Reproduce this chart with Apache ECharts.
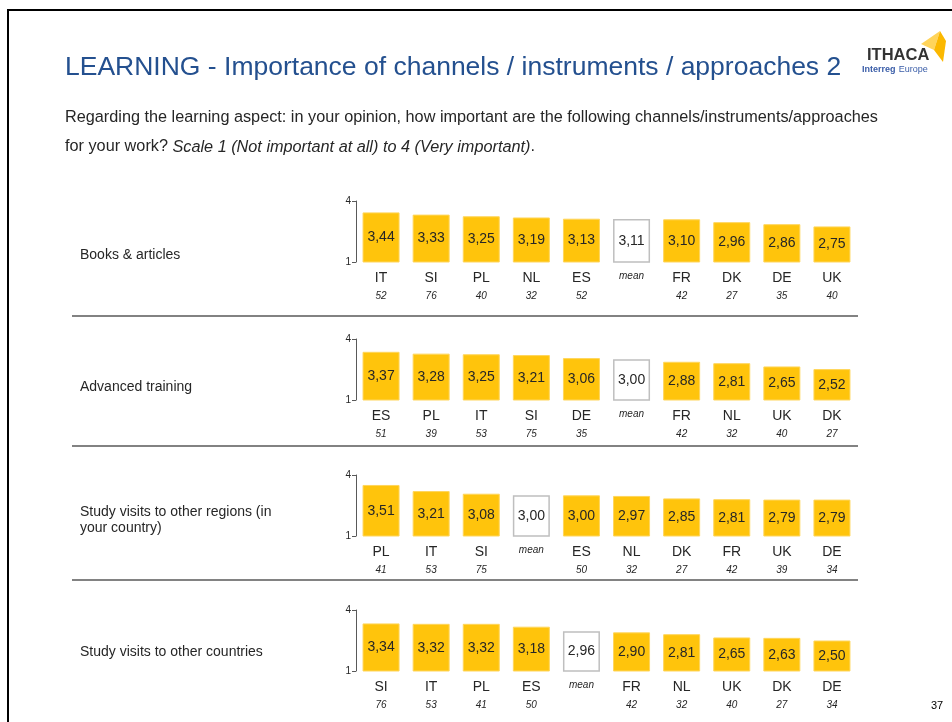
<!DOCTYPE html>
<html>
<head>
<meta charset="utf-8">
<script src="https://cdn.jsdelivr.net/npm/echarts@6/dist/echarts.min.js"></script>
<style>
  html, body { margin: 0; padding: 0; background: #fff; }
  #chart { width: 952px; height: 722px; }
</style>
</head>
<body>
<div id="chart"></div>
<script>
// --- data ---
const rowLabels = ['Books & articles', 'Advanced training', 'Study visits to other regions (in\nyour country)', 'Study visits to other countries']

const booksCats = ['IT', 'SI', 'PL', 'NL', 'ES', 'mean', 'FR', 'DK', 'DE', 'UK']
const booksVals = [3.44, 3.33, 3.25, 3.19, 3.13, 3.11, 3.10, 2.96, 2.86, 2.75]
const booksN    = [52, 76, 40, 32, 52, null, 42, 27, 35, 40]

const trainCats = ['ES', 'PL', 'IT', 'SI', 'DE', 'mean', 'FR', 'NL', 'UK', 'DK']
const trainVals = [3.37, 3.28, 3.25, 3.21, 3.06, 3.00, 2.88, 2.81, 2.65, 2.52]
const trainN    = [51, 39, 53, 75, 35, null, 42, 32, 40, 27]

const regionCats = ['PL', 'IT', 'SI', 'mean', 'ES', 'NL', 'DK', 'FR', 'UK', 'DE']
const regionVals = [3.51, 3.21, 3.08, 3.00, 3.00, 2.97, 2.85, 2.81, 2.79, 2.79]
const regionN    = [41, 53, 75, null, 50, 32, 27, 42, 39, 34]

const countryCats = ['SI', 'IT', 'PL', 'ES', 'mean', 'FR', 'NL', 'UK', 'DK', 'DE']
const countryVals = [3.34, 3.32, 3.32, 3.18, 2.96, 2.90, 2.81, 2.65, 2.63, 2.50]
const countryN    = [76, 53, 41, 50, null, 42, 32, 40, 27, 34]

const yTicks = [1, 4]

const panels = [
  { cats: booksCats, vals: booksVals, n: booksN },
  { cats: trainCats, vals: trainVals, n: trainN },
  { cats: regionCats, vals: regionVals, n: regionN },
  { cats: countryCats, vals: countryVals, n: countryN }
]

// --- layout ---
const FONT = 'Liberation Sans'
const INK = '#262626'
const YELLOW = '#ffc40c'
const panelTops = [201, 339, 475, 610]
const panelH = 61
const gridLeft = 356
const gridW = 501
const rowLabelY = [255, 387, 520, 652]
const sepY = [316, 446, 580]

const chart = echarts.init(document.getElementById('chart'), null, { renderer: 'canvas' })

const grids = [], xAxes = [], yAxes = [], series = []
panels.forEach((p, i) => {
  grids.push({ left: gridLeft, top: panelTops[i], width: gridW, height: panelH })
  xAxes.push({
    type: 'category',
    gridIndex: i,
    data: p.cats,
    axisLine: { show: false },
    axisTick: { show: false },
    axisLabel: {
      margin: 7,
      interval: 0,
      formatter: (v, idx) => v === 'mean'
        ? '{m|mean}'
        : '{c|' + v + '}\n{n|' + p.n[idx] + '}',
      rich: {
        c: { fontFamily: FONT, fontSize: 14, color: INK, lineHeight: 18 },
        n: { fontFamily: FONT, fontSize: 10, fontStyle: 'italic', color: INK, lineHeight: 18 },
        m: { fontFamily: FONT, fontSize: 10, fontStyle: 'italic', color: INK, lineHeight: 14 }
      }
    }
  })
  yAxes.push({
    type: 'value',
    gridIndex: i,
    min: yTicks[0],
    max: yTicks[1],
    interval: yTicks[1] - yTicks[0],
    splitLine: { show: false },
    axisLine: { show: true, lineStyle: { color: '#595959', width: 1 } },
    axisTick: { show: true, length: 4, lineStyle: { color: '#595959' } },
    axisLabel: { fontFamily: FONT, fontSize: 10, color: INK, margin: 5 }
  })
  series.push({
    type: 'bar',
    xAxisIndex: i,
    yAxisIndex: i,
    barWidth: 37,
    silent: true,
    data: p.vals.map((v, idx) => p.cats[idx] === 'mean'
      ? { value: v, itemStyle: { color: '#fff', borderColor: '#bfbfbf', borderWidth: 1.5 } }
      : { value: v, itemStyle: { color: YELLOW, borderColor: '#ffd65c', borderWidth: 1 } }),
    label: {
      show: true,
      position: 'inside',
      fontFamily: FONT,
      fontSize: 14,
      color: INK,
      formatter: (d) => d.value.toFixed(2).replace('.', ',')
    }
  })
})

function txt(x, y, style) {
  return { type: 'text', x: x, y: y, style: Object.assign({ fontFamily: FONT, fill: INK, verticalAlign: 'middle' }, style) }
}

const graphic = [
  // slide frame
  { type: 'line', shape: { x1: 7, y1: 10, x2: 952, y2: 10 }, style: { stroke: '#000', lineWidth: 2 } },
  { type: 'line', shape: { x1: 8, y1: 10, x2: 8, y2: 722 }, style: { stroke: '#000', lineWidth: 2 } },
  // title + question
  txt(65, 68, { text: 'LEARNING - Importance of channels / instruments / approaches 2', fontSize: 26.5, fill: '#24508f' }),
  txt(65, 118, { text: 'Regarding the learning aspect: in your opinion, how important are the following channels/instruments/approaches', fontSize: 16.25 }),
  txt(65, 147, {
    text: '{r|for your work? }{i|Scale 1 (Not important at all) to 4 (Very important)}{r|.}',
    rich: {
      r: { fontFamily: FONT, fontSize: 16.25, fill: INK },
      i: { fontFamily: FONT, fontSize: 16.25, fontStyle: 'italic', fill: INK }
    }
  }),
  // logo
  { type: 'polygon', shape: { points: [[921, 44], [940, 31], [934, 50]] }, style: { fill: '#ffd45a' } },
  { type: 'polygon', shape: { points: [[940, 31], [946, 41], [943, 62], [934, 50]] }, style: { fill: '#fbb800' } },
  txt(867, 55, { text: 'ITHACA', fontSize: 16.5, fontWeight: 'bold', fill: '#333' }),
  txt(862, 70, {
    text: '{b|Interreg} {r|Europe}',
    rich: {
      b: { fontFamily: FONT, fontSize: 9, fontWeight: 'bold', fill: '#3a5da8' },
      r: { fontFamily: FONT, fontSize: 9, fill: '#3a5da8' }
    }
  }),
  // page number
  txt(931, 706, { text: '37', fontSize: 11, fill: '#000' })
]

rowLabels.forEach((t, i) => {
  graphic.push(txt(80, rowLabelY[i], { text: t, fontSize: 14, lineHeight: 16 }))
})
sepY.forEach((y) => {
  graphic.push({ type: 'line', shape: { x1: 72, y1: y, x2: 858, y2: y }, style: { stroke: '#595959', lineWidth: 1.5 } })
})

chart.setOption({
  animation: false,
  grid: grids,
  xAxis: xAxes,
  yAxis: yAxes,
  series: series,
  graphic: graphic
})
</script>
</body>
</html>
